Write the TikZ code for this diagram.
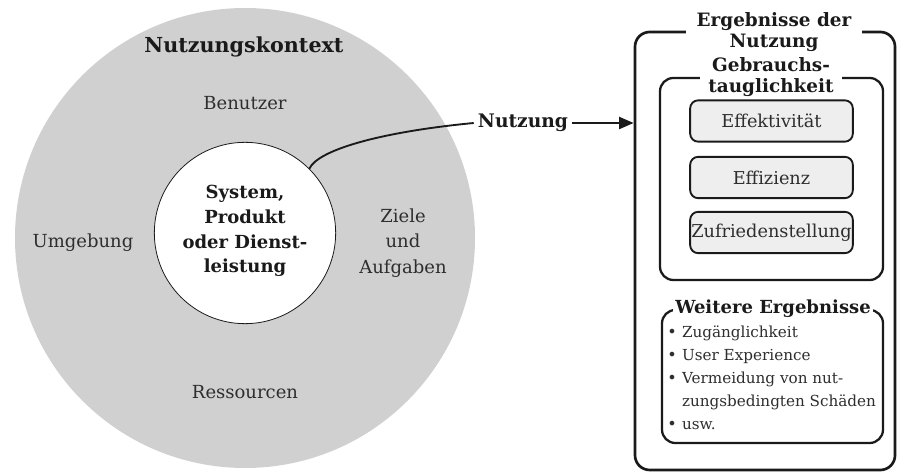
\documentclass[tikz,border=0pt]{standalone}
\usepackage{fontspec}
\setmainfont{DejaVu Serif}
\usetikzlibrary{arrows.meta,fit}
\definecolor{ctxgray}{HTML}{D0D0D0}
\definecolor{boxfill}{HTML}{EEEEEE}
\definecolor{ink}{HTML}{1A1A1A}
\definecolor{txt}{HTML}{2E2E2E}
\tikzset{
  plain/.style={font=\fontsize{13.5}{19}\selectfont, text=txt, align=center, inner sep=0pt},
  heavy/.style={font=\fontsize{13.5}{18.5}\selectfont\bfseries, text=ink, align=center, inner sep=0pt},
  bigbox/.style={draw=ink, line width=2pt, rounded corners=11pt, inner sep=0pt},
  midbox/.style={draw=ink, line width=1.7pt, rounded corners=10pt, inner sep=0pt},
  itembox/.style={draw=ink, fill=boxfill, line width=1.4pt, rounded corners=6pt, inner sep=0pt,
    minimum width=122pt, minimum height=31pt, font=\fontsize{13.3}{15}\selectfont, text=txt},
  gaptitle/.style={heavy, fill=white, inner xsep=3pt, inner ysep=1pt},
}
\begin{document}
\begin{tikzpicture}[x=0.75pt,y=-0.75pt]
\path[use as bounding box, fill=white] (0,0) rectangle (898,473);
% context circle
\node[circle, fill=ctxgray, minimum size=345pt, inner sep=0pt] (ctx) at (245,238) {};
\node[circle, draw=ink, line width=0.6pt, fill=white, minimum size=136pt, inner sep=0pt] (sys) at (245,233) {};
\node[heavy] (systxt) at (245,231) {System,\\Produkt\\oder Dienst-\\leistung};
\node[heavy, font=\fontsize{15.5}{18}\selectfont\bfseries] (title) at (244,47) {Nutzungskontext};
\node[plain] (benutzer) at (245,103) {Benutzer};
\node[plain] (umgebung) at (83,243) {Umgebung};
\node[plain] (ziele) at (403,243) {Ziele\\und\\Aufgaben};
\node[plain] (ressourcen) at (245,392) {Ressourcen};
% results panel
\coordinate (o1) at (635,32);
\coordinate (o2) at (895,470);
\node[bigbox, fit=(o1)(o2)] (res) {};
\node[gaptitle, font=\fontsize{13.8}{15.5}\selectfont\bfseries, inner xsep=8pt] (restitle) at (774,32) {Ergebnisse der\\Nutzung};
\coordinate (g1) at (660,78);
\coordinate (g2) at (883,280);
\node[midbox, fit=(g1)(g2)] (gebr) {};
\node[gaptitle, font=\fontsize{13.8}{15.5}\selectfont\bfseries, inner xsep=6pt] (gebrtitle) at (771,77) {Gebrauchs-\\tauglichkeit};
\node[itembox] (eff) at (771.5,121) {Effektivität};
\node[itembox] (effz) at (771.5,177.5) {Effizienz};
\node[itembox] (zuf) at (771.5,232.5) {Zufriedenstellung};
\coordinate (w1) at (662,310);
\coordinate (w2) at (883,443);
\node[midbox, fit=(w1)(w2)] (weit) {};
\node[gaptitle, font=\fontsize{13.5}{16}\selectfont\bfseries, inner xsep=2pt] (weittitle) at (773,309) {Weitere Ergebnisse};
\node[anchor=north west, inner sep=0pt, font=\fontsize{11.4}{17.2}\selectfont, text=txt] (list) at (667,321)
  {\begin{tabular}{@{}l@{\hspace{4pt}}l@{}}
  {\large •} & Zugänglichkeit\\
  {\large •} & User Experience\\
  {\large •} & Vermeidung von nut-\\
    & zungsbedingten Schäden\\
  {\large •} & usw.
  \end{tabular}};
% Nutzung connector
\node[heavy, font=\fontsize{14}{16}\selectfont\bfseries, fill=white, inner xsep=3pt, inner ysep=2pt] (nutz) at (523,123) {Nutzung};
\draw[ink, line width=1.4pt] (sys.45) .. controls (318,150) and (380,132) .. (nutz.west);
\draw[ink, line width=1.8pt, -{Triangle[length=11pt,width=9pt]}] (nutz.east) -- (res.west |- nutz.east);
\end{tikzpicture}
\end{document}
